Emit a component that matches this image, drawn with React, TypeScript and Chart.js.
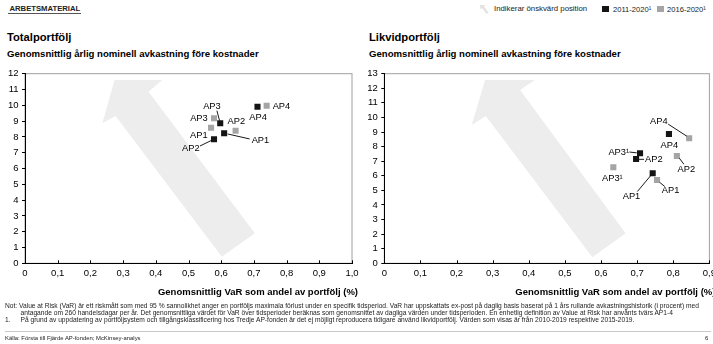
import React, { useEffect, useRef } from 'react';
import { Chart, registerables } from 'chart.js';

Chart.register(...registerables);

const FONT = '"Liberation Sans", Arial, Helvetica, sans-serif';

// ---------- data ----------
const totalNames = ['AP1', 'AP2', 'AP3', 'AP4'];
const totalVar2011 = [0.609, 0.578, 0.597, 0.711];
const totalRet2011 = [8.23, 7.85, 8.86, 9.91];
const totalVar2016 = [0.569, 0.644, 0.578, 0.739];
const totalRet2016 = [8.58, 8.39, 9.18, 9.97];

const likvidNames = ['AP1', 'AP2', 'AP3¹', 'AP4'];
const likvidVar2011 = [0.743, 0.697, 0.708, 0.788];
const likvidRet2011 = [6.17, 7.15, 7.54, 8.87];
const likvidVar2016 = [0.755, 0.81, 0.634, 0.844];
const likvidRet2016 = [5.71, 7.36, 6.58, 8.57];

const totalXTicks = ['0', '0,1', '0,2', '0,3', '0,4', '0,5', '0,6', '0,7', '0,8', '0,9', '1,0'];
const likvidXTicks = ['0', '0,1', '0,2', '0,3', '0,4', '0,5', '0,6', '0,7', '0,8', '0,9'];
const totalYTicks = ['0', '1', '2', '3', '4', '5', '6', '7', '8', '9', '10', '11', '12'];
const likvidYTicks = ['0', '1', '2', '3', '4', '5', '6', '7', '8', '9', '10', '11', '12', '13'];

const series2011 = '2011-2020¹';
const series2016 = '2016-2020¹';

// decorative "desired position" arrows, in data units (VaR, return)
const totalArrow = [[0.274, 11.6], [0.4195, 11.6], [0.378, 10.86], [0.703, 1.9], [0.602, 0.42], [0.277, 9.32], [0.2365, 8.86]];
const likvidArrow = [[0.279, 12.57], [0.417, 12.57], [0.376, 11.89], [0.668, 2.06], [0.576, 0.41], [0.281, 10.1], [0.242, 9.49]];

// ---------- label placement (pixel offsets from each point) ----------
type Place = { dx: number; dy: number; align: 'left' | 'right' | 'center'; leader?: number[] };
const totalPlace2011: Place[] = [
  { dx: 27.5, dy: 6.7, align: 'left', leader: [3.5, 0.7, 25.5, 5.7] },
  { dx: -14.4, dy: 9, align: 'right', leader: [-14, 6.7, -2.7, 1.2] },
  { dx: -8.3, dy: -16.6, align: 'center', leader: [-3.3, -12.6, -0.7, -2.8] },
  { dx: 0.6, dy: 10.6, align: 'center' },
];
const totalPlace2016: Place[] = [
  { dx: -3.4, dy: 7.6, align: 'right' },
  { dx: 0.7, dy: -9, align: 'center' },
  { dx: -6.3, dy: 0.6, align: 'right' },
  { dx: 6, dy: 0.4, align: 'left' },
];
const likvidPlace2011: Place[] = [
  { dx: -21.2, dy: 23.4, align: 'center', leader: [-15.3, 18.2, -1.5, 1.7] },
  { dx: 9, dy: 0.6, align: 'left', leader: [3, 0.3, 8, 0.3] },
  { dx: -11, dy: -1.3, align: 'right', leader: [-10.6, -1.3, -3.3, -0.5] },
  { dx: 0.4, dy: 11, align: 'center' },
];
const likvidPlace2016: Place[] = [
  { dx: 13.6, dy: 10.7, align: 'center', leader: [2.6, 2.3, 7.8, 6.5] },
  { dx: 9.5, dy: 13.3, align: 'center', leader: [2.5, 2.3, 7, 8.3] },
  { dx: -1, dy: 11, align: 'center' },
  { dx: -30.3, dy: -17, align: 'center', leader: [-21, -14.2, -2.5, -2.2] },
];

const BLACK = '#141414';
const GRAY = '#a5a5a5';

const decorPlugin = {
  id: 'decor',
  beforeDraw(chart: any, _a: any, opts: any) {
    const { ctx, chartArea: a, scales } = chart;
    const xs = scales.x, ys = scales.y;
    ctx.save();
    ctx.strokeStyle = '#a0a0a0';
    ctx.lineWidth = 1;
    ctx.strokeRect(a.left, a.top, a.right - a.left, a.bottom - a.top);
    ctx.fillStyle = '#ededed';
    ctx.beginPath();
    (opts.arrow as number[][]).forEach(([vx, vy], i) => {
      const px = xs.getPixelForValue(vx);
      const py = ys.getPixelForValue(vy);
      if (i === 0) ctx.moveTo(px, py); else ctx.lineTo(px, py);
    });
    ctx.closePath();
    ctx.fill();
    ctx.restore();
  },
  afterDraw(chart: any, _a: any, opts: any) {
    const { ctx, chartArea: a, scales } = chart;
    const xs = scales.x;
    ctx.save();
    // inward x tick marks
    ctx.strokeStyle = '#000';
    ctx.lineWidth = 1;
    xs.ticks.forEach((t: any) => {
      const px = Math.round(xs.getPixelForValue(t.value)) + 0.5;
      ctx.beginPath();
      ctx.moveTo(px, a.bottom);
      ctx.lineTo(px, a.bottom - 3);
      ctx.stroke();
    });
    // axis title
    ctx.fillStyle = '#000';
    ctx.font = `bold 9.5px ${FONT}`;
    ctx.textAlign = 'right';
    ctx.textBaseline = 'middle';
    ctx.fillText(opts.xTitle, a.right + 6, a.bottom + 29);
    // point labels
    ctx.font = `9.3px ${FONT}`;
    (opts.labels as { names: string[]; places: Place[] }[]).forEach((cfg, di) => {
      const meta = chart.getDatasetMeta(di);
      meta.data.forEach((pt: any, j: number) => {
        const p = cfg.places[j];
        if (p.leader) {
          ctx.beginPath();
          ctx.strokeStyle = '#000';
          ctx.lineWidth = 0.9;
          ctx.moveTo(pt.x + p.leader[0], pt.y + p.leader[1]);
          ctx.lineTo(pt.x + p.leader[2], pt.y + p.leader[3]);
          ctx.stroke();
        }
        ctx.textAlign = p.align;
        ctx.fillText(cfg.names[j], pt.x + p.dx, pt.y + p.dy);
      });
    });
    ctx.restore();
  },
};

type PanelProps = {
  left: number; top: number; width: number; height: number;
  areaLeft: number; areaRight: number; areaTop: number; areaBottom: number;
  xMax: number; yMax: number; xTicks: string[]; yTicks: string[];
  names: string[];
  var2011: number[]; ret2011: number[]; var2016: number[]; ret2016: number[];
  place2011: Place[]; place2016: Place[]; arrow: number[][];
};

function Panel(props: PanelProps) {
  const ref = useRef<HTMLCanvasElement>(null);
  useEffect(() => {
    const p = props;
    const chart = new Chart(ref.current as HTMLCanvasElement, {
      type: 'scatter',
      data: {
        datasets: [
          {
            label: series2011,
            data: p.var2011.map((x, i) => ({ x, y: p.ret2011[i] })),
            backgroundColor: BLACK,
            borderWidth: 0,
            pointStyle: 'rect',
            pointRadius: 4.3,
          },
          {
            label: series2016,
            data: p.var2016.map((x, i) => ({ x, y: p.ret2016[i] })),
            backgroundColor: GRAY,
            borderWidth: 0,
            pointStyle: 'rect',
            pointRadius: 4.3,
          },
        ],
      },
      options: {
        responsive: false,
        animation: false,
        devicePixelRatio: 1,
        layout: {
          autoPadding: false,
          padding: { left: 0, top: p.areaTop, right: p.width - p.areaRight, bottom: 0 },
        },
        plugins: {
          legend: { display: false },
          tooltip: { enabled: false },
          decor: {
            arrow: p.arrow,
            xTitle: 'Genomsnittlig VaR som andel av portfölj (%)',
            labels: [
              { names: p.names, places: p.place2011 },
              { names: p.names, places: p.place2016 },
            ],
          },
        } as any,
        scales: {
          x: {
            type: 'linear',
            min: 0,
            max: p.xMax,
            ticks: {
              stepSize: 0.1,
              autoSkip: false,
              maxRotation: 0,
              padding: 4,
              color: '#000',
              font: { family: FONT, size: 9.5 },
              callback: (_v: any, i: number) => p.xTicks[i],
            },
            grid: { display: false, drawOnChartArea: false, drawTicks: false },
            border: { display: true, color: '#000', width: 1 },
            afterFit: (s: any) => {
              s.height = p.height - p.areaBottom;
              s.paddingLeft = 0;
              s.paddingRight = 0;
            },
          },
          y: {
            type: 'linear',
            min: 0,
            max: p.yMax,
            ticks: {
              stepSize: 1,
              autoSkip: false,
              padding: 3.5,
              color: '#000',
              font: { family: FONT, size: 9.5 },
              callback: (_v: any, i: number) => p.yTicks[i],
            },
            grid: { display: true, drawOnChartArea: false, drawTicks: true, tickLength: 3, color: '#000' },
            border: { display: true, color: '#000', width: 1 },
            afterFit: (s: any) => {
              s.width = p.areaLeft;
              s.paddingTop = 0;
              s.paddingBottom = 0;
            },
          },
        },
      },
      plugins: [decorPlugin as any],
    });
    return () => chart.destroy();
  }, []);
  return (
    <canvas
      ref={ref}
      width={props.width}
      height={props.height}
      style={{ position: 'absolute', left: props.left, top: props.top, width: props.width, height: props.height }}
    />
  );
}

const txt = (style: React.CSSProperties): React.CSSProperties => ({
  position: 'absolute',
  whiteSpace: 'nowrap',
  fontFamily: FONT,
  lineHeight: 1,
  color: '#000',
  ...style,
});

export default function App() {
  return (
    <div style={{ position: 'absolute', left: 0, top: 0, width: 713, height: 344, background: '#fff', overflow: 'hidden' }}>
      {/* header */}
      <div style={txt({ left: 9.5, top: 5.2, fontSize: 7.7, fontWeight: 'bold', color: '#222' })}>ARBETSMATERIAL</div>
      <div style={{ position: 'absolute', left: 8, top: 13, width: 73, height: 1, background: '#555' }} />
      <svg style={{ position: 'absolute', left: 480, top: 5 }} width={9} height={9} viewBox="0 0 9 9">
        <polygon points="0,0 5,0 4,1.6 8.5,7.5 6.5,9 2.2,3 0.5,4.2" fill="#e2e2e2" />
      </svg>
      <div style={txt({ left: 494, top: 5.4, fontSize: 7.8, color: '#222' })}>Indikerar önskvärd position</div>
      <div style={{ position: 'absolute', left: 602, top: 6.3, width: 6.5, height: 6, background: BLACK }} />
      <div style={txt({ left: 613, top: 5.5, fontSize: 7.6, color: '#222' })}>{series2011}</div>
      <div style={{ position: 'absolute', left: 657, top: 6.3, width: 6.5, height: 6, background: GRAY }} />
      <div style={txt({ left: 667, top: 5.5, fontSize: 7.6, color: '#222' })}>{series2016}</div>

      {/* panel titles */}
      <div style={txt({ left: 7, top: 31.7, fontSize: 11.2, fontWeight: 'bold' })}>Totalportfölj</div>
      <div style={txt({ left: 7, top: 48.7, fontSize: 9.6, fontWeight: 'bold' })}>
        Genomsnittlig årlig nominell avkastning före kostnader
      </div>
      <div style={txt({ left: 369, top: 31.7, fontSize: 11.2, fontWeight: 'bold' })}>Likvidportfölj</div>
      <div style={txt({ left: 369, top: 48.7, fontSize: 9.6, fontWeight: 'bold' })}>
        Genomsnittlig årlig nominell avkastning före kostnader
      </div>

      <Panel
        left={0} top={60} width={362} height={245}
        areaLeft={25} areaRight={352} areaTop={13.7} areaBottom={203.3}
        xMax={1} yMax={12} xTicks={totalXTicks} yTicks={totalYTicks}
        names={totalNames}
        var2011={totalVar2011} ret2011={totalRet2011} var2016={totalVar2016} ret2016={totalRet2016}
        place2011={totalPlace2011} place2016={totalPlace2016} arrow={totalArrow}
      />
      <Panel
        left={355} top={60} width={358} height={245}
        areaLeft={29.3} areaRight={354.4} areaTop={13.7} areaBottom={203.3}
        xMax={0.9} yMax={13} xTicks={likvidXTicks} yTicks={likvidYTicks}
        names={likvidNames}
        var2011={likvidVar2011} ret2011={likvidRet2011} var2016={likvidVar2016} ret2016={likvidRet2016}
        place2011={likvidPlace2011} place2016={likvidPlace2016} arrow={likvidArrow}
      />

      {/* footnotes */}
      <div style={txt({ left: 5, top: 302.5, fontSize: 6.65, color: '#222' })}>
        Not: Value at Risk (VaR) är ett riskmått som med 95 % sannolikhet anger en portföljs maximala förlust under en specifik tidsperiod. VaR har uppskattats ex-post på daglig basis baserat på 1 års rullande avkastningshistorik (i procent) med
      </div>
      <div style={txt({ left: 20.5, top: 309.5, fontSize: 6.65, color: '#222' })}>
        antagande om 260 handelsdagar per år. Det genomsnittliga värdet för VaR över tidsperioder beräknas som genomsnittet av dagliga värden under tidsperioden. En enhetlig definition av Value at Risk har använts tvärs AP1-4
      </div>
      <div style={txt({ left: 5, top: 316.5, fontSize: 6.65, color: '#222' })}>1.</div>
      <div style={txt({ left: 20.5, top: 316.5, fontSize: 6.65, color: '#222' })}>
        På grund av uppdatering av portföljsystem och tillgångsklassificering hos Tredje AP-fonden är det ej möjligt reproducera tidigare använd likvidportfölj. Värden som visas är från 2010-2019 respektive 2015-2019.
      </div>
      <div style={{ position: 'absolute', left: 5, top: 331, width: 706, height: 1, background: '#c8c8c8' }} />
      <div style={txt({ left: 5, top: 335.5, fontSize: 5.9, color: '#222' })}>Källa: Första till Fjärde AP-fonden; McKinsey-analys</div>
      <div style={txt({ left: 705, top: 335.5, fontSize: 5.9, color: '#222' })}>6</div>
    </div>
  );
}
